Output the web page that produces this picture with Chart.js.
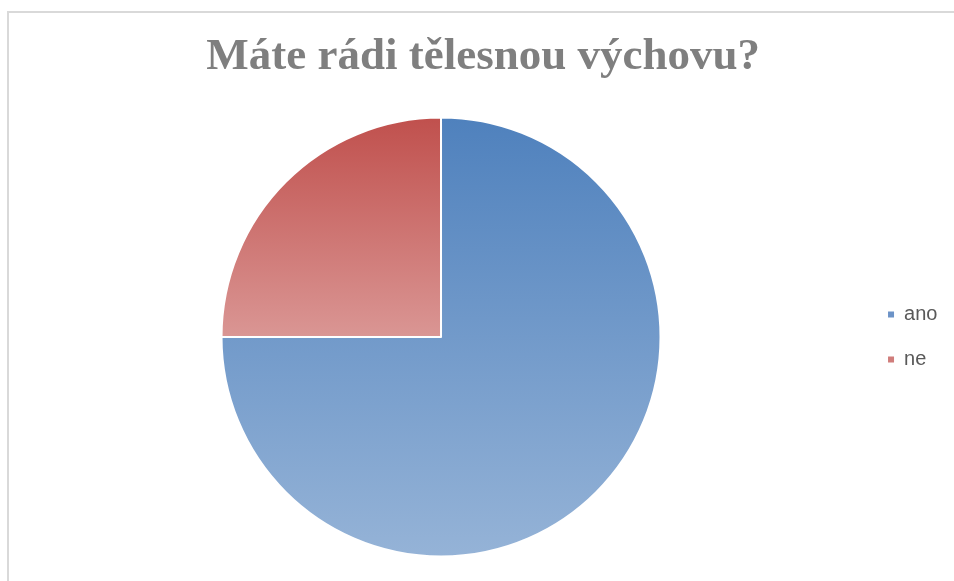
<!DOCTYPE html>
<html lang="cs">
<head>
    <meta charset="UTF-8">
    <title>Máte rádi tělesnou výchovu?</title>
    <script src="https://cdn.jsdelivr.net/npm/chart.js"></script>
    <style>
        html, body {
            margin: 0;
            padding: 0;
            background: #ffffff;
            overflow: hidden;
        }
        .obal {
            position: relative;
            width: 954px;
            height: 581px;
        }
        /* šedý rámeček grafu, pravý a spodní okraj jsou mimo výřez */
        .ramecek {
            position: absolute;
            left: 7px;
            top: 11px;
            width: 1000px;
            height: 700px;
            border-left: 2px solid #d9d9d9;
            border-top: 2px solid #d9d9d9;
        }
        .graf {
            position: absolute;
            left: 0;
            top: 0;
            width: 954px;
            height: 581px;
        }
    </style>
</head>
<body>
    <div class="obal">
        <div class="ramecek"></div>
        <div class="graf">
            <canvas id="grafKolac"></canvas>
        </div>
    </div>

    <script>
        // data z obrázku
        const kategorie = ['ano', 'ne'];
        const hodnoty = [75, 25];

        // barvy přechodu (nahoře tmavší, dole světlejší)
        const barvyHore = ['#4f81bd', '#c0504d'];
        const barvyDole = ['#95b3d7', '#da9694'];
        const barvyLegendy = ['#6c93c7', '#d07d7b'];

        const BORDER = 2;

        // svislý rozsah výseče, aby měl každý díl vlastní přechod
        function rozsahY(zacatek, konec, cy, r) {
            let minY = cy, maxY = cy;
            const uhly = [zacatek, konec];
            for (let k = -4; k <= 8; k++) {
                const a = k * Math.PI / 2;
                if (a > zacatek && a < konec) uhly.push(a);
            }
            uhly.forEach(a => {
                const y = cy + r * Math.sin(a);
                minY = Math.min(minY, y);
                maxY = Math.max(maxY, y);
            });
            return [minY, maxY];
        }

        function vyplnVysece(context) {
            const chart = context.chart;
            const i = context.dataIndex;
            const area = chart.chartArea;
            if (!area || i === undefined) return barvyHore[i] || '#888';
            const cy = (area.top + area.bottom) / 2;
            const r = (Math.min(area.right - area.left, area.bottom - area.top) - BORDER) / 2;
            const soucet = hodnoty.reduce((a, b) => a + b, 0);
            let zacatek = -Math.PI / 2;
            for (let k = 0; k < i; k++) zacatek += hodnoty[k] / soucet * Math.PI * 2;
            const konec = zacatek + hodnoty[i] / soucet * Math.PI * 2;
            const [y0, y1] = rozsahY(zacatek, konec, cy, r);
            const g = chart.ctx.createLinearGradient(0, y0, 0, y1);
            g.addColorStop(0, barvyHore[i]);
            g.addColorStop(1, barvyDole[i]);
            return g;
        }

        const ctx = document.getElementById('grafKolac').getContext('2d');

        const graf = new Chart(ctx, {
            type: 'pie',
            data: {
                labels: kategorie,
                datasets: [{
                    data: hodnoty,
                    backgroundColor: vyplnVysece,
                    borderColor: '#ffffff',
                    borderWidth: BORDER
                }]
            },
            options: {
                responsive: true,
                maintainAspectRatio: false,
                animation: false,
                layout: {
                    padding: { left: 19, right: 6.6, top: 0, bottom: 23.5 }
                },
                plugins: {
                    title: {
                        display: true,
                        text: 'Máte rádi tělesnou výchovu?',
                        color: '#7f7f7f',
                        font: {
                            family: "'Liberation Serif', serif",
                            size: 45,
                            weight: 'bold',
                            lineHeight: 1.2
                        },
                        padding: { top: 30, bottom: 32.5 }
                    },
                    legend: {
                        position: 'right',
                        fullSize: false,
                        labels: {
                            boxWidth: 6,
                            boxHeight: 6,
                            padding: 25,
                            color: '#595959',
                            font: {
                                family: "'Liberation Sans', sans-serif",
                                size: 20
                            },
                            generateLabels: function(chart) {
                                return kategorie.map((nazev, i) => ({
                                    text: nazev,
                                    fillStyle: barvyLegendy[i],
                                    strokeStyle: barvyLegendy[i],
                                    lineWidth: 0,
                                    fontColor: '#595959',
                                    hidden: false,
                                    index: i
                                }));
                            }
                        }
                    },
                    tooltip: { enabled: false }
                }
            }
        });
    </script>
</body>
</html>
